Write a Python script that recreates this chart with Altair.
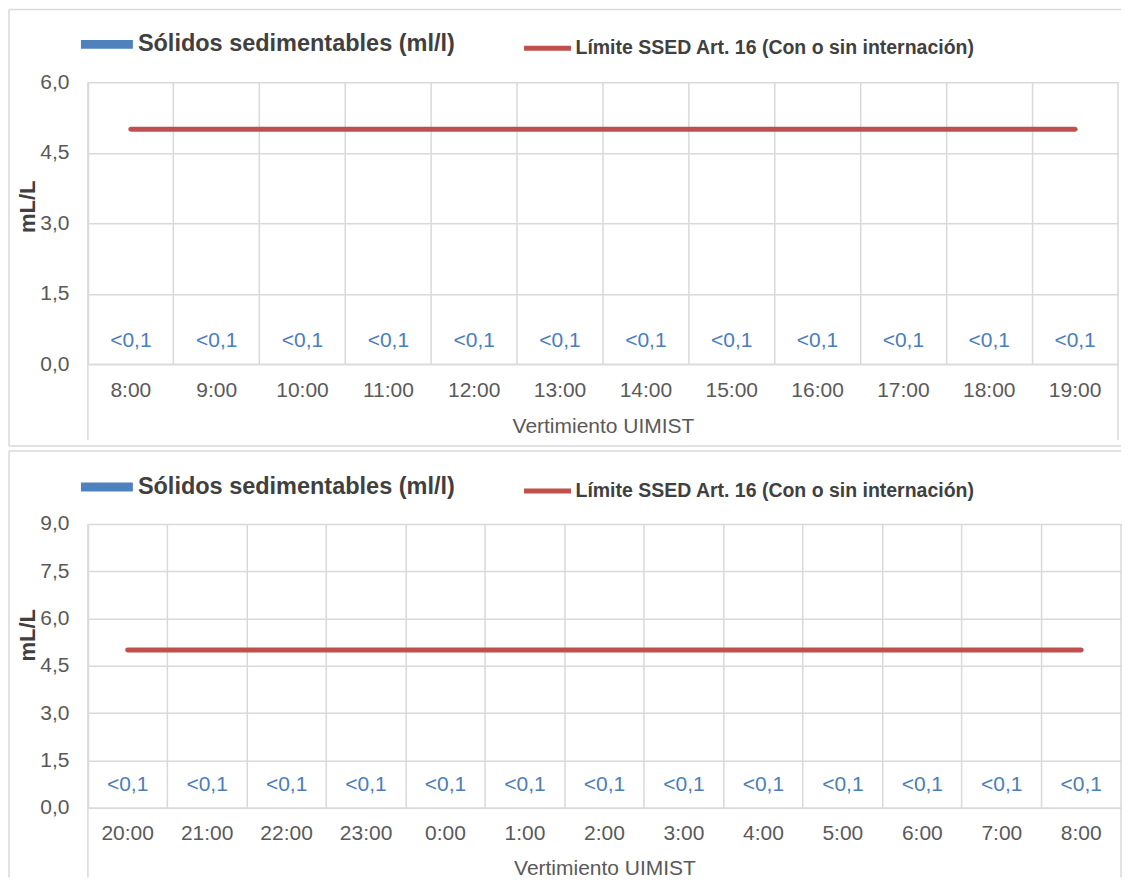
import altair as alt
import pandas as pd

# ---------------- data ----------------
hours_1 = ["8:00", "9:00", "10:00", "11:00", "12:00", "13:00",
           "14:00", "15:00", "16:00", "17:00", "18:00", "19:00"]
sed_1 = [0, 0, 0, 0, 0, 0, 0, 0, 0, 0, 0, 0]
lab_1 = ["<0,1", "<0,1", "<0,1", "<0,1", "<0,1", "<0,1",
         "<0,1", "<0,1", "<0,1", "<0,1", "<0,1", "<0,1"]
lim_1 = [5.0, 5.0, 5.0, 5.0, 5.0, 5.0, 5.0, 5.0, 5.0, 5.0, 5.0, 5.0]
yticks_1 = [0, 1.5, 3.0, 4.5, 6.0]

hours_2 = ["20:00", "21:00", "22:00", "23:00", "0:00", "1:00", "2:00",
           "3:00", "4:00", "5:00", "6:00", "7:00", "8:00"]
sed_2 = [0, 0, 0, 0, 0, 0, 0, 0, 0, 0, 0, 0, 0]
lab_2 = ["<0,1", "<0,1", "<0,1", "<0,1", "<0,1", "<0,1", "<0,1",
         "<0,1", "<0,1", "<0,1", "<0,1", "<0,1", "<0,1"]
lim_2 = [5.0, 5.0, 5.0, 5.0, 5.0, 5.0, 5.0, 5.0, 5.0, 5.0, 5.0, 5.0, 5.0]
yticks_2 = [0, 1.5, 3.0, 4.5, 6.0, 7.5, 9.0]

series_bar = "Sólidos sedimentables (ml/l)"
series_line = "Límite SSED Art. 16 (Con o sin internación)"
x_title = "Vertimiento UIMIST"
y_title = "mL/L"

BLUE = "#4F81BD"
LABEL_BLUE = "#4A7EBB"
RED = "#C0504D"
GRID = "#D9D9D9"
TXT = "#595959"
DARK = "#404040"
FONT = "Liberation Sans"


def deco_rule(x, x2, y, y2):
    return alt.Chart(alt.Data(values=[{}])).mark_rule(
        color=GRID, strokeWidth=1.5
    ).encode(x=alt.value(x), x2=alt.value(x2), y=alt.value(y), y2=alt.value(y2))


def make_panel(hours, sed, labs, lims, yticks, w, h, title_y, leg_center,
               frame_right, frame_bottom, ext, title_pad, bottom_frame):
    df = pd.DataFrame({
        "hora": hours, "sed": sed, "lab": labs, "lim": lims,
        "sb": [series_bar] * len(hours), "sl": [series_line] * len(hours),
    })
    ymax = yticks[-1]
    xenc = alt.X(
        "hora:N", sort=hours, title=x_title,
        axis=alt.Axis(
            grid=True, bandPosition=0, gridColor=GRID, gridWidth=1.5,
            domain=True, domainColor=GRID, domainWidth=1.5, ticks=False,
            labelAngle=0, labelFont=FONT, labelFontSize=21, labelColor=TXT,
            labelPadding=15, titleFont=FONT, titleFontSize=21,
            titleFontWeight="normal", titleColor=TXT, titlePadding=title_pad,
        ),
        scale=alt.Scale(paddingInner=0, paddingOuter=0),
    )
    yscale = alt.Scale(domain=[0, ymax], nice=False)
    yenc = alt.Y(
        "sed:Q", scale=yscale, title=y_title,
        axis=alt.Axis(
            values=yticks, grid=True, gridColor=GRID, gridWidth=1.5,
            domain=False, ticks=False, labelFont=FONT, labelFontSize=21,
            labelColor=TXT, labelPadding=19,
            labelExpr="replace(format(datum.value, '.1f'), '.', ',')",
            titleFont=FONT, titleFontSize=22, titleFontWeight="bold",
            titleColor=DARK, titleX=-60, titleY=title_y,
            titleBaseline="middle", titleAlign="center",
        ),
    )
    base = alt.Chart(df)

    layers = [
        deco_rule(-79, frame_right, -73, -73),
        deco_rule(-79, -79, -73, frame_bottom),
    ]
    if bottom_frame:
        layers.append(deco_rule(-79, frame_right, frame_bottom, frame_bottom))

    bars = base.mark_bar().encode(
        x=xenc, y=yenc,
        fill=alt.Fill(
            "sb:N", scale=alt.Scale(domain=[series_bar], range=[BLUE]),
            legend=alt.Legend(
                orient="none", legendX=-7, legendY=leg_center - 26,
                title=None, padding=0,
                symbolType="M-1,-0.17H1V0.17H-1Z", symbolSize=2704,
                symbolStrokeWidth=0, labelOffset=5, labelFont=FONT,
                labelFontSize=23.5, labelFontWeight="bold", labelColor=DARK,
                labelLimit=1000,
            ),
        ),
    )

    line = base.mark_line(strokeWidth=5, strokeCap="round").encode(
        x=xenc, y=alt.Y("lim:Q", scale=yscale),
        stroke=alt.Stroke(
            "sl:N", scale=alt.Scale(domain=[series_line], range=[RED]),
            legend=alt.Legend(
                orient="none", legendX=434, legendY=leg_center + 1.5 - 23.5,
                title=None, padding=0,
                symbolType="stroke", symbolSize=2209, symbolStrokeWidth=5,
                labelOffset=2, labelFont=FONT, labelFontSize=19.5,
                labelFontWeight="bold", labelColor=DARK, labelLimit=1000,
            ),
        ),
    )

    text = base.mark_text(
        dy=-23, fontSize=21, font=FONT, color=LABEL_BLUE, baseline="middle"
    ).encode(x=xenc, y=alt.Y("sed:Q", scale=yscale), text="lab:N")

    layers += [
        bars, line, text,
        deco_rule(0, 0, 0, h + ext),
        deco_rule(w, w, 0, h + ext),
    ]
    return alt.layer(*layers).properties(width=w, height=h)


top = make_panel(hours_1, sed_1, lab_1, lim_1, yticks_1, 1031, 282, 124, -38,
                 frame_right=1034, frame_bottom=282 + 82, ext=76, title_pad=15,
                 bottom_frame=True)
bottom = make_panel(hours_2, sed_2, lab_2, lim_2, yticks_2, 1034, 284, 111, -37,
                    frame_right=1034, frame_bottom=284 + 70, ext=70, title_pad=14,
                    bottom_frame=False)

chart = alt.vconcat(top, bottom, spacing=3).resolve_scale(
    x="independent", y="independent", fill="independent", stroke="independent"
).resolve_legend(fill="independent", stroke="independent").properties(
    padding=0, background="white"
).configure_view(stroke=None)

chart.save("out.html", embed_options={"renderer": "svg", "actions": False})
